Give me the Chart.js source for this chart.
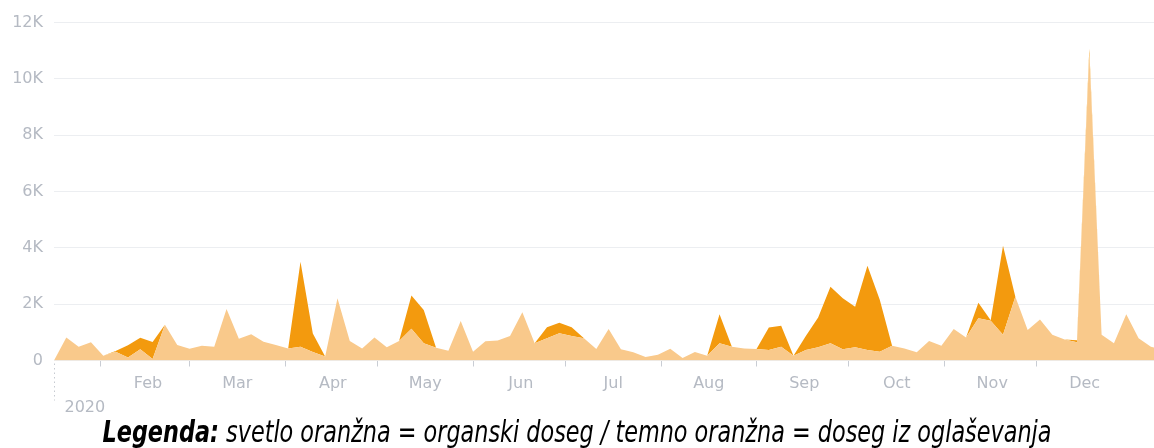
<!DOCTYPE html>
<html>
<head>
<meta charset="utf-8">
<title>Doseg 2020</title>
<script src="https://cdn.jsdelivr.net/npm/chart.js@4"></script>
<style>
  html, body { margin: 0; padding: 0; background: #fff; }
  #wrap { position: relative; width: 1154px; height: 448px; overflow: hidden; }
  #chart { position: absolute; left: 0; top: 0; }
  #caption {
    position: absolute;
    left: 577px;
    top: 413px;
    white-space: nowrap;
    font-family: "DejaVu Sans", Verdana, sans-serif;
    font-style: italic;
    font-size: 31px;
    color: #000;
    transform-origin: 0 0;
  }
  #caption b { font-weight: bold; }
</style>
</head>
<body>
<div id="wrap">
  <canvas id="chart" width="1154" height="448"></canvas>
  <div id="caption"><b>Legenda:</b> svetlo oranžna = organski doseg / temno oranžna = doseg iz oglaševanja</div>
</div>

<script>
// ================= DATA =================
// one point every 4 days, starting 17 Jan 2020
const stepDays = 4;

// light orange: organic reach
const organic = [
  0, 820, 490, 650, 170, 310, 110, 400, 50, 1270,
  550, 420, 520, 490, 1830, 770, 930, 670, 550, 430,
  490, 300, 140, 2210, 690, 430, 820, 470, 690, 1130,
  610, 450, 350, 1400, 310, 680, 710, 870, 1710, 610,
  790, 970, 870, 790, 410, 1120, 400, 290, 120, 200,
  420, 90, 300, 170, 610, 490, 430, 410, 370, 490,
  170, 370, 470, 610, 400, 470, 370, 310, 520, 430,
  290, 690, 520, 1120, 820, 1500, 1410, 910, 2260, 1080,
  1460, 910, 750, 650, 10900, 910, 610, 1640, 790, 490,
  370
];

// dark orange: paid reach (stacked on top of organic)
const paid = [
  0, 0, 0, 0, 0, 30, 430, 410, 610, 0,
  0, 0, 0, 0, 0, 0, 0, 0, 0, 0,
  3020, 660, 0, 0, 0, 0, 0, 0, 0, 1180,
  1180, 0, 0, 0, 0, 0, 0, 0, 0, 0,
  390, 370, 310, 0, 0, 0, 0, 0, 0, 0,
  0, 0, 0, 0, 1030, 0, 0, 0, 800, 740,
  0, 500, 1060, 2010, 1810, 1440, 2990, 1850, 0, 0,
  0, 0, 0, 0, 0, 550, 20, 3160, 0, 0,
  0, 0, 0, 70, 170, 0, 0, 0, 0, 0,
  0
];

const days = organic.map((_, i) => i * stepDays);

// month boundaries (days after 17 Jan) and their names
const monthNames  = ["Feb", "Mar", "Apr", "May", "Jun", "Jul", "Aug", "Sep", "Oct", "Nov", "Dec"];
const monthStarts = [15, 44, 75, 105, 136, 166, 197, 228, 258, 289, 319];
const labelOffset = 15.5;

const yTicks = [0, 2000, 4000, 6000, 8000, 10000, 12000];
const yearLabel = "2020";

// ================= STYLE =================
const LIGHT = "#f9c98b";
const DARK = "#f39a0e";
const AXIS_TEXT = "#b5bac3";
const GRID = "#eceef1";
const TICK_FONT = { family: "'DejaVu Sans', sans-serif", size: 16 };

// dotted year separator + year label under the x axis
const yearMarker = {
  id: "yearMarker",
  afterDraw(chart) {
    const { ctx, chartArea, scales } = chart;
    const x = Math.round(scales.x.getPixelForValue(0)) + 0.5;
    ctx.save();
    ctx.strokeStyle = "#c6cad1";
    ctx.lineWidth = 1;
    ctx.setLineDash([1.5, 3]);
    ctx.beginPath();
    ctx.moveTo(x, chartArea.bottom + 3);
    ctx.lineTo(x, chartArea.bottom + 40);
    ctx.stroke();
    ctx.setLineDash([]);
    ctx.fillStyle = AXIS_TEXT;
    ctx.font = "16px 'DejaVu Sans', sans-serif";
    ctx.textAlign = "left";
    ctx.textBaseline = "middle";
    ctx.fillText(yearLabel, x + 10, chartArea.bottom + 47);
    ctx.restore();
  }
};

// ================= CHART =================
new Chart(document.getElementById("chart"), {
  type: "line",
  data: {
    labels: days,
    datasets: [
      {
        label: "organski doseg",
        data: organic,
        backgroundColor: LIGHT,
        borderWidth: 0,
        pointRadius: 0,
        tension: 0,
        fill: "origin"
      },
      {
        label: "doseg iz oglaševanja",
        data: paid,
        backgroundColor: DARK,
        borderWidth: 0,
        pointRadius: 0,
        tension: 0,
        fill: "-1"
      }
    ]
  },
  options: {
    responsive: false,
    animation: false,
    events: [],
    layout: { padding: { top: 22.5, right: 0, bottom: 0, left: 0 } },
    plugins: { legend: { display: false }, tooltip: { enabled: false } },
    scales: {
      x: {
        type: "linear",
        min: 0,
        max: 357,
        afterBuildTicks: (scale) => {
          const t = [];
          monthStarts.forEach(m => { t.push({ value: m }); t.push({ value: m + labelOffset }); });
          scale.ticks = t;
        },
        afterFit: (scale) => { scale.height = 87.5; },
        ticks: {
          autoSkip: false,
          maxRotation: 0,
          padding: 8,
          color: AXIS_TEXT,
          font: TICK_FONT,
          callback: (v) => {
            const k = monthStarts.findIndex(m => m + labelOffset === v);
            return k >= 0 ? monthNames[k] : "";
          }
        },
        grid: {
          drawOnChartArea: false,
          drawTicks: true,
          tickLength: 6,
          color: (ctx) => (ctx.tick && monthStarts.includes(ctx.tick.value)) ? "#c9cdd4" : "rgba(0,0,0,0)",
          tickColor: (ctx) => (ctx.tick && monthStarts.includes(ctx.tick.value)) ? "#c9cdd4" : "rgba(0,0,0,0)"
        },
        border: { display: false }
      },
      y: {
        stacked: true,
        min: 0,
        max: 12000,
        afterBuildTicks: (scale) => { scale.ticks = yTicks.map(v => ({ value: v })); },
        afterFit: (scale) => { scale.width = 54; },
        ticks: {
          padding: 11,
          color: AXIS_TEXT,
          font: TICK_FONT,
          callback: (v) => v === 0 ? "0" : (v / 1000) + "K"
        },
        grid: { color: GRID, drawTicks: false, lineWidth: 1 },
        border: { display: false }
      }
    }
  },
  plugins: [yearMarker]
});

// squeeze the caption to the width it has in the picture, centred on the page
const caption = document.getElementById("caption");
const captionWidth = 949;
const sx = captionWidth / caption.offsetWidth;
caption.style.transform = "translateX(" + (-captionWidth / 2) + "px) scaleX(" + sx + ")";
</script>
</body>
</html>
